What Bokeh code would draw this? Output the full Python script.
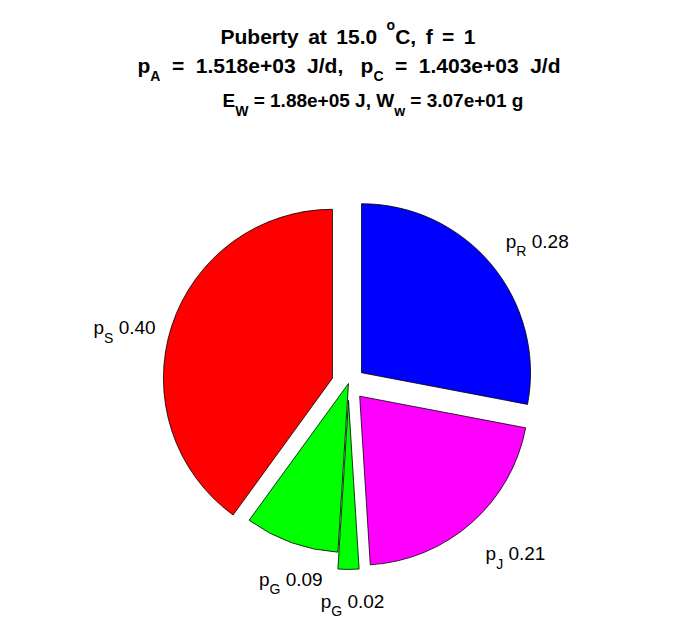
import math
from bokeh.plotting import figure
from bokeh.models import Range1d, ColumnDataSource
from bokeh.embed import file_html
from bokeh.resources import INLINE
from bokeh.core.properties import value

# ---- data -------------------------------------------------------------
slice_names = ["R", "J", "G", "G", "S"]          # subscripts of p
fractions = [0.28, 0.21, 0.02, 0.09, 0.40]       # clockwise from 12 o'clock
frac_labels = ["0.28", "0.21", "0.02", "0.09", "0.40"]
explode = [1, 1, 1, 0, 1]
colors = ["#0000FF", "#FF00FF", "#00FF00", "#00FF00", "#FF0000"]

title_lines = [
    [("Puberty at 15.0 ", "n"), ("o", "sup"), ("C, f = 1", "n")],
    [("p", "n"), ("A", "sub"), (" = 1.518e+03 J/d,  p", "n"), ("C", "sub"), (" = 1.403e+03 J/d", "n")],
    [("E", "n"), ("W", "sub"), (" = 1.88e+05 J, W", "n"), ("w", "sub"), (" = 3.07e+01 g", "n")],
]

# ---- geometry (pixel <-> data) ----------------------------------------
W, H = 696, 618
S = 169.0              # pixels per unit radius
CX, CY = 348.0, 383.0  # pie centre in page pixels


def X(ix):
    return (ix - CX) / S


def Y(iy):
    return (CY - iy) / S


p = figure(width=W, height=H, output_backend="svg", toolbar_location=None,
           x_range=Range1d(X(0), X(W)), y_range=Range1d(Y(H), Y(0)),
           min_border=0, outline_line_color=None, background_fill_color="white",
           border_fill_color="white")
p.xaxis.visible = False
p.yaxis.visible = False
p.grid.visible = False

# ---- wedges -------------------------------------------------------------
xs, ys, st, en, mids = [], [], [], [], []
cum = 0.0
for f, e in zip(fractions, explode):
    end = 90.0 - cum * 360.0
    start = 90.0 - (cum + f) * 360.0
    mid = math.radians((start + end) / 2)
    xs.append(0.1 * e * math.cos(mid))
    ys.append(0.1 * e * math.sin(mid))
    st.append(math.radians(start))
    en.append(math.radians(end))
    mids.append(mid)
    cum += f

src = ColumnDataSource(dict(x=xs, y=ys, start=st, end=en, color=colors))
p.wedge(x="x", y="y", radius=1.0, start_angle="start", end_angle="end",
        direction="anticlock", fill_color="color", line_color="black",
        line_width=0.8, source=src)

# ---- text helpers -------------------------------------------------------
BOLD_W = {' ': 278, '.': 278, ',': 278, '=': 584, '+': 584, '/': 278, 'P': 667,
          'u': 611, 'b': 611, 'e': 556, 'r': 389, 't': 333, 'y': 556, 'a': 556,
          'o': 611, 'C': 722, 'f': 333, 'J': 556, 'd': 611, 'p': 611, 'A': 722,
          'E': 667, 'W': 944, 'w': 778, 'g': 611}
REG_W = {' ': 278, '.': 278, 'p': 556, 'R': 722, 'J': 500, 'G': 778, 'S': 667}


def tw(s, size, bold):
    tab = BOLD_W if bold else REG_W
    return sum(tab.get(c, 556) for c in s) * size / 1000.0


def natural_width(pieces, size, sub_size, bold):
    return sum(tw(t, size if k == "n" else sub_size, bold) for t, k in pieces)


def n_gaps(pieces):
    n = 0
    for t, k in pieces:
        if k == "n":
            n += len([g for g in t.replace("  ", " ").split(" ")]) - 1
    return n


def draw(pieces, left, base, size, sub_size, sub_dy, sup_dy, bold, extra_gap=0.0):
    """Lay out a run of text pieces word by word (spaces advance x)."""
    tx, ty, tt, tsz = [], [], [], []
    x = left
    for txt, kind in pieces:
        sz = size if kind == "n" else sub_size
        dy = 0 if kind == "n" else (sub_dy if kind == "sub" else sup_dy)
        word = ""
        prev_space = False
        for ch in txt + "\0":
            if ch in (" ", "\0"):
                if word:
                    tx.append(X(x)); ty.append(Y(base + dy)); tt.append(word)
                    tsz.append("%gpx" % sz)
                    x += tw(word, sz, bold)
                    word = ""
                if ch == " ":
                    x += tw(" ", sz, bold) + (0.0 if prev_space else extra_gap)
                    prev_space = True
            else:
                word += ch
                prev_space = False
    s = ColumnDataSource(dict(x=tx, y=ty, text=tt, size=tsz))
    p.text(x="x", y="y", text="text", text_font_size="size", source=s,
           text_font=value("Liberation Sans"),
           text_font_style="bold" if bold else "normal",
           text_color="black", text_baseline="alphabetic", text_align="left")


# ---- title ---------------------------------------------------------------
title_sizes = [21, 21, 19]
title_baselines = [36, 65, 100]
title_extent = [(220, 475), (137, 560), (222, 518)]
for line, sz, b, (l, r) in zip(title_lines, title_sizes, title_baselines, title_extent):
    nat = natural_width(line, sz, 14, True)
    extra = max(0.0, (r - l) - nat) / max(1, n_gaps(line))
    draw(line, l, b, sz, 14, 10, -12, True, extra)

# ---- slice labels --------------------------------------------------------
L_SIZE, L_SUB = 19, 14
nudges = [(1, -13), (3, 18), (4, 15), (11, 5), (0, 7)]
for name, lab, mid, (ndx, ndy) in zip(slice_names, frac_labels, mids, nudges):
    pieces = [("p", "n"), (name, "sub"), (" " + lab, "n")]
    w = natural_width(pieces, L_SIZE, L_SUB, False)
    ax = CX + 1.2 * S * math.cos(mid)
    ay = CY - 1.2 * S * math.sin(mid)
    c = math.cos(mid)
    if c > 0.5:
        left = ax
    elif c < -0.5:
        left = ax - w
    else:
        left = ax - w / 2
    draw(pieces, left + ndx, ay + ndy, L_SIZE, L_SUB, 10, -12, False)

open("out.html", "w").write(file_html(p, INLINE))
